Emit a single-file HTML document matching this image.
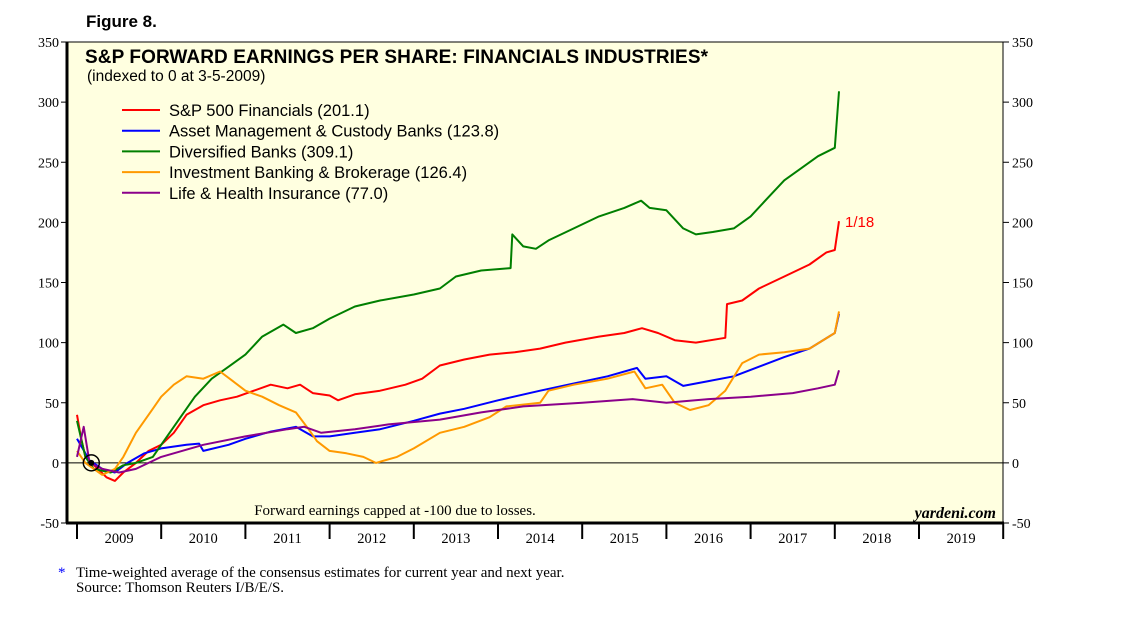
<!DOCTYPE html>
<html><head><meta charset="utf-8"><style>
body{margin:0;background:#fff;width:1138px;height:621px;overflow:hidden;font-family:"Liberation Sans",sans-serif}
</style></head><body>
<svg id="chart" width="1138" height="621" xmlns="http://www.w3.org/2000/svg">
<text x="86" y="27" font-family="Liberation Sans" font-weight="bold" font-size="17">Figure 8.</text>
<rect x="67" y="42" width="936" height="481" fill="#FFFFE0" stroke="#000" stroke-width="1"/>
<g id="axes"></g>
<g id="series"></g>
<text x="85" y="63" font-family="Liberation Sans" font-weight="bold" font-size="19" textLength="623">S&amp;P FORWARD EARNINGS PER SHARE: FINANCIALS INDUSTRIES*</text>
<text x="87" y="81" font-family="Liberation Sans" font-size="15.5">(indexed to 0 at 3-5-2009)</text>
<g id="legend"></g>
<text x="845" y="227" fill="#f00" font-family="Liberation Sans" font-size="15">1/18</text>
<text x="395" y="515" text-anchor="middle" font-family="Liberation Serif" font-size="15">Forward earnings capped at -100 due to losses.</text>
<text x="996" y="518" text-anchor="end" font-family="Liberation Serif" font-style="italic" font-weight="bold" font-size="16">yardeni.com</text>
<text x="58" y="577" fill="#00f" font-family="Liberation Serif" font-size="15">*</text>
<text x="76" y="577" font-family="Liberation Serif" font-size="15">Time-weighted average of the consensus estimates for current year and next year.</text>
<text x="76" y="592" font-family="Liberation Serif" font-size="15">Source: Thomson Reuters I/B/E/S.</text>
</svg>
<script>
const yTicks=[-50,0,50,100,150,200,250,300,350];
const years=[2009,2010,2011,2012,2013,2014,2015,2016,2017,2018,2019];
const seriesNames=["S&P 500 Financials (201.1)","Asset Management & Custody Banks (123.8)","Diversified Banks (309.1)","Investment Banking & Brokerage (126.4)","Life & Health Insurance (77.0)"];
const seriesColors=["#ff0000","#0000ff","#007f00","#ff9900","#8b008b"];
const redT=[2009,2009.05,2009.1,2009.17,2009.25,2009.35,2009.45,2009.55,2009.7,2009.85,2010,2010.15,2010.3,2010.5,2010.7,2010.9,2011.1,2011.3,2011.5,2011.65,2011.8,2012,2012.1,2012.3,2012.6,2012.9,2013.1,2013.31,2013.6,2013.9,2014.2,2014.5,2014.8,2015.2,2015.5,2015.71,2015.9,2016.1,2016.35,2016.7,2016.72,2016.9,2017.1,2017.4,2017.7,2017.9,2018,2018.05];
const redV=[40,20,5,0,-5,-12,-15,-8,0,10,15,25,40,48,52,55,60,65,62,65,58,56,52,57,60,65,70,81,86,90,92,95,100,105,108,112,108,102,100,104,132,135,145,155,165,175,177,201];
const blueT=[2009,2009.15,2009.3,2009.45,2009.6,2009.8,2010,2010.3,2010.45,2010.5,2010.8,2011,2011.3,2011.6,2011.8,2012,2012.3,2012.6,2013,2013.31,2013.6,2014,2014.5,2014.9,2015.3,2015.65,2015.75,2016,2016.2,2016.5,2016.8,2017.1,2017.4,2017.7,2018,2018.05];
const blueV=[20,2,-5,-8,0,8,12,15,16,10,15,20,26,30,22,22,25,28,35,41,45,52,60,66,72,79,70,72,64,68,72,80,88,95,108,124];
const greenT=[2009,2009.1,2009.2,2009.4,2009.55,2009.7,2009.9,2010,2010.2,2010.4,2010.6,2010.8,2011,2011.2,2011.45,2011.6,2011.8,2012,2012.3,2012.6,2013,2013.31,2013.5,2013.8,2014.15,2014.17,2014.3,2014.45,2014.6,2014.9,2015.2,2015.5,2015.7,2015.8,2016,2016.2,2016.35,2016.55,2016.8,2017,2017.2,2017.4,2017.6,2017.8,2018,2018.05];
const greenV=[35,5,-5,-8,-2,0,5,15,35,55,70,80,90,105,115,108,112,120,130,135,140,145,155,160,162,190,180,178,185,195,205,212,218,212,210,195,190,192,195,205,220,235,245,255,262,309];
const orangeT=[2009,2009.1,2009.3,2009.45,2009.55,2009.7,2009.9,2010,2010.15,2010.3,2010.5,2010.7,2010.85,2011,2011.2,2011.4,2011.6,2011.75,2011.85,2012,2012.2,2012.4,2012.55,2012.8,2013,2013.31,2013.6,2013.9,2014.1,2014.5,2014.6,2014.9,2015.3,2015.62,2015.75,2015.95,2016.1,2016.28,2016.5,2016.7,2016.9,2017.1,2017.4,2017.7,2018,2018.05];
const orangeV=[10,0,-10,-5,5,25,45,55,65,72,70,76,68,60,55,48,42,28,18,10,8,5,0,5,12,25,30,38,47,50,60,65,70,76,62,65,50,44,48,60,83,90,92,95,108,126];
const purpleT=[2009,2009.08,2009.15,2009.3,2009.5,2009.7,2010,2010.5,2011,2011.5,2011.7,2011.9,2012.3,2012.7,2013.31,2013.8,2014.3,2015,2015.6,2016,2016.5,2017,2017.5,2017.8,2018,2018.05];
const purpleV=[5,30,0,-5,-8,-5,5,15,22,28,30,25,28,32,36,42,47,50,53,50,53,55,58,62,65,77];
const seriesT=[redT,blueT,greenT,orangeT,purpleT];
const seriesV=[redV,blueV,greenV,orangeV,purpleV];

const NS="http://www.w3.org/2000/svg";
const X0=77,PX=84.2,YT=42,YB=523;
function xs(t){return X0+(t-2009)*PX;}
function ys(v){return YB-(v+50)/400*(YB-YT);}
function mk(tag,attrs,parent){const e=document.createElementNS(NS,tag);for(const k in attrs)e.setAttribute(k,attrs[k]);parent.appendChild(e);return e;}
const ax=document.getElementById('axes');
yTicks.forEach(v=>{
  const y=ys(v);
  let t=mk('line',{x1:61,x2:67,y1:y,y2:y,stroke:'#000'},ax);
  
  
  t=mk('line',{x1:1003,x2:1009,y1:y,y2:y,stroke:'#000'},ax);
  
  
  let l=mk('text',{x:59,y:y+5,'text-anchor':'end','font-family':'Liberation Serif','font-size':14},ax);l.textContent=v;
  
  
  l=mk('text',{x:1012,y:y+5,'font-family':'Liberation Serif','font-size':14},ax);l.textContent=v;
  
  
});
let z=mk('line',{x1:67,x2:1003,y1:ys(0),y2:ys(0),stroke:'#000','stroke-width':1},ax);


let la=mk('line',{x1:67,x2:67,y1:YT,y2:YB,stroke:'#000','stroke-width':3},ax);


let ba=mk('line',{x1:66,x2:1004,y1:YB,y2:YB,stroke:'#000','stroke-width':3},ax);


years.concat([2020]).forEach(yr=>{
  const t=mk('line',{x1:xs(yr),x2:xs(yr),y1:YB,y2:YB+16,stroke:'#000','stroke-width':2},ax);
  
  
});
years.forEach(yr=>{
  const l=mk('text',{x:xs(yr+0.5),y:543,'text-anchor':'middle','font-family':'Liberation Serif','font-size':14.5},ax);l.textContent=yr;
  
  
});
const sg=document.getElementById('series');
seriesT.forEach((T,i)=>{
  const V=seriesV[i];
  const d=T.map((t,j)=>(j?'L':'M')+xs(t).toFixed(1)+','+ys(V[j]).toFixed(1)).join('');
  const p=mk('path',{d:d,fill:'none',stroke:seriesColors[i],'stroke-width':2,'stroke-linejoin':'round'},sg);
  
  
});
let c=mk('circle',{cx:xs(2009.17),cy:ys(0),r:8,fill:'none',stroke:'#000','stroke-width':1.5},sg);


let c2=mk('circle',{cx:xs(2009.17),cy:ys(0),r:3,fill:'#000'},sg);


const lg=document.getElementById('legend');
seriesNames.forEach((n,i)=>{
  const y=110+i*20.7;
  const l=mk('line',{x1:122,x2:160,y1:y,y2:y,stroke:seriesColors[i],'stroke-width':2},lg);
  
  
  const t=mk('text',{x:169,y:y+6,'font-family':'Liberation Sans','font-size':16.5},lg);t.textContent=n;
  
  
});
</script>
</body></html>
